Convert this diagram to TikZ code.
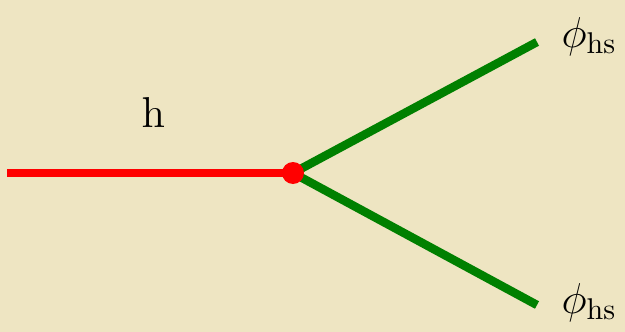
\documentclass[tikz,border=0pt]{standalone}
\definecolor{parch}{RGB}{238,229,194}
\definecolor{hred}{RGB}{255,0,0}
\definecolor{sgreen}{RGB}{0,128,0}
\begin{document}
\begin{tikzpicture}[x=1pt,y=-1pt,
  lbl/.style={inner sep=0pt,font=\Large,scale=3.0},
  hline/.style={line width=8.5pt,hred},
  sline/.style={line width=8.5pt,sgreen}]
\fill[parch] (0,0) rectangle (625,332);
\useasboundingbox (0,0) rectangle (625,332);
\coordinate (a) at (7,173);
\coordinate (v) at (293,173);
\coordinate (b1) at (537,42);
\coordinate (b2) at (537,305);
\draw[sline] (v) -- (b1);
\draw[sline] (v) -- (b2);
\draw[hline] (a) -- (v);
\fill[hred] (v) circle (11);
\node[lbl,anchor=base west] (h) at (141,127) {$\mathrm{h}$};
\node[lbl,anchor=base west] (p1) at (561,47) {$\phi_{\mathrm{hs}}$};
\node[lbl,anchor=base west] (p2) at (561,313) {$\phi_{\mathrm{hs}}$};
\end{tikzpicture}
\end{document}
